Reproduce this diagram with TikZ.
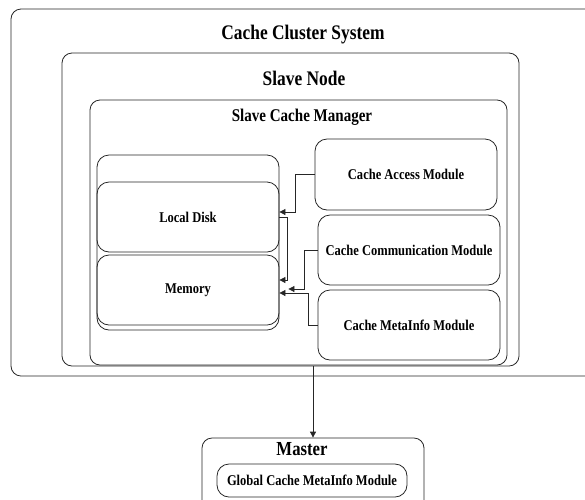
\documentclass[tikz,border=0pt]{standalone}
\usepackage{fontspec}
\setmainfont{Liberation Serif}[FakeStretch=0.84]
\usetikzlibrary{arrows.meta}
\tikzset{
  box/.style={draw=black!85, line width=0.8pt, rounded corners=10pt, rectangle, inner sep=0pt, fill=none},
  modbox/.style={box, rounded corners=12pt, font=\fontsize{14.9}{16}\selectfont\bfseries},
  title/.style={inner sep=0pt, font=\fontsize{20.7}{23}\selectfont\bfseries},
  subtitle/.style={inner sep=0pt, font=\fontsize{17.9}{20}\selectfont\bfseries},
  arr/.style={draw=black!85, line width=0.8pt, -{Triangle[length=6pt,width=6pt]}},
}
\begin{document}
\begin{tikzpicture}[x=1pt,y=-1pt]
\useasboundingbox (0,0) rectangle (585,499);
\clip (0,0) rectangle (585,499);
% containers
\node[box, minimum width=609pt, minimum height=367pt] (ccs) at (315.5,192.5) {};
\node[title] (ccstitle) at (303,35) {Cache Cluster System};
\node[box, minimum width=457pt, minimum height=313pt] (sn) at (290.5,209.5) {};
\node[title] (sntitle) at (304,78) {Slave Node};
\node[box, minimum width=417pt, minimum height=265pt] (scm) at (298.5,232.5) {};
\node[subtitle] (scmtitle) at (302,117) {Slave Cache Manager};
% storage
\node[box, rounded corners=12pt, minimum width=182pt, minimum height=175pt] (store) at (188,242.5) {};
\node[modbox, minimum width=182pt, minimum height=70pt] (ld) at (188,217) {Local Disk};
\node[modbox, minimum width=182pt, minimum height=70pt] (mem) at (188,290) {Memory};
% modules
\node[modbox, minimum width=182pt, minimum height=71pt] (acc) at (406,174.5) {Cache Access Module};
\node[modbox, minimum width=182pt, minimum height=70pt] (comm) at (409,250) {Cache Communication Module};
\node[modbox, minimum width=182pt, minimum height=70pt] (meta) at (409,325) {Cache MetaInfo Module};
% master
\node[box, minimum width=222pt, minimum height=82pt] (master) at (313,479) {};
\node[inner sep=0pt, font=\fontsize{19.9}{22}\selectfont\bfseries] (mastertitle) at (302,449) {Master};
\node[modbox, minimum width=190pt, minimum height=33pt] (gcm) at (312,480.5) {Global Cache MetaInfo Module};
% connectors
\draw[arr] (acc.west) -- ++(-19,0) |- ([yshift=5pt]ld.east);
\draw[arr] (ld.east) -- ++(8,0) |- ([yshift=10pt]mem.east);
\draw[arr] (comm.west) -- ++(-13,0) |- ([xshift=9pt,yshift=1pt]mem.east);
\draw[arr] (meta.west) -- ++(-9,0) |- ([yshift=-3pt]mem.east);
\draw[arr] (sn.south -| master.north) -- (master.north);
\end{tikzpicture}
\end{document}
